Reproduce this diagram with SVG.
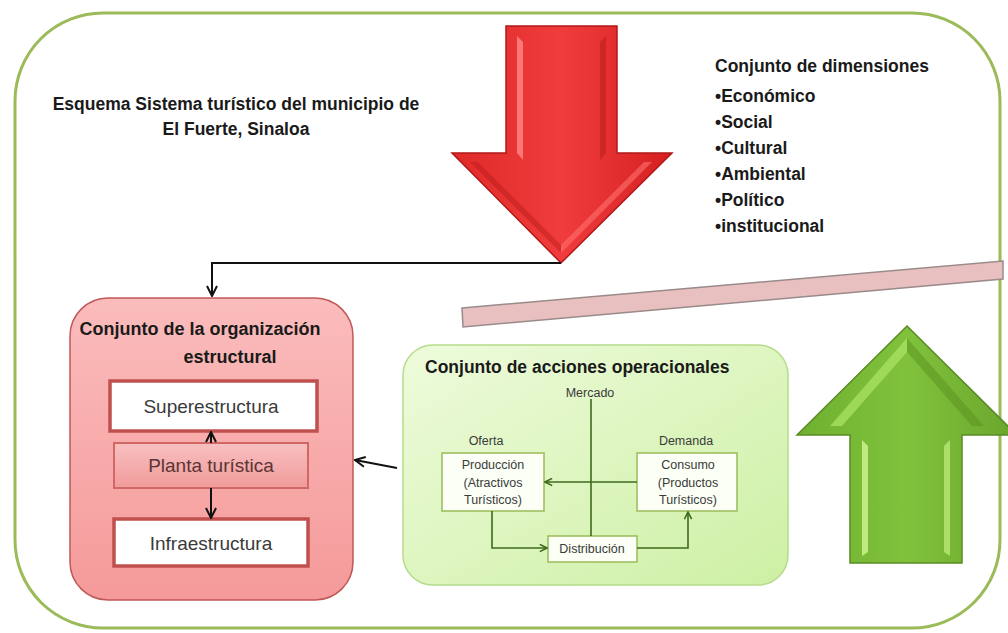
<svg xmlns="http://www.w3.org/2000/svg" width="1008" height="633" viewBox="0 0 1008 633">
<style>
text{font-family:"Liberation Sans",Arial,sans-serif;}
.b{font-weight:bold;fill:#1a1a1a;}
.t17{font-size:17.5px;}
.t18{font-size:18px;}
.box{font-size:19px;fill:#3a3a3a;}
.sm{font-size:12.5px;fill:#3a3a3a;}
.conn{fill:none;stroke:#111;stroke-width:2;}
.gconn{fill:none;stroke:#3f6a1c;stroke-width:1.6;}
.ibox{fill:#ffffff;stroke:#c0504d;stroke-width:3.5;}
.gbox{fill:#fbfff5;stroke:#9bbb59;stroke-width:1.5;}
</style>
<defs>
<linearGradient id="pinkG" x1="0" y1="0" x2="0" y2="1">
<stop offset="0" stop-color="#fbbcbc"/>
<stop offset="1" stop-color="#f59a9a"/>
</linearGradient>
<linearGradient id="plantaG" x1="0" y1="0" x2="0" y2="1">
<stop offset="0" stop-color="#f8c0c0"/>
<stop offset="1" stop-color="#f19a9a"/>
</linearGradient>
<linearGradient id="greenG" x1="0" y1="0" x2="1" y2="1">
<stop offset="0" stop-color="#eefbdc"/>
<stop offset="1" stop-color="#cdf0a4"/>
</linearGradient>
<linearGradient id="redA" x1="0" y1="0" x2="1" y2="0">
<stop offset="0" stop-color="#e02a2a"/>
<stop offset="0.5" stop-color="#f03c3c"/>
<stop offset="1" stop-color="#d42020"/>
</linearGradient>
<linearGradient id="greenA" x1="0" y1="0" x2="1" y2="0">
<stop offset="0" stop-color="#6fb030"/>
<stop offset="0.5" stop-color="#80c23c"/>
<stop offset="1" stop-color="#6aa52c"/>
</linearGradient>
<marker id="ah" viewBox="0 0 12 12" refX="11" refY="6" markerWidth="12" markerHeight="12" markerUnits="userSpaceOnUse" orient="auto">
<path d="M1,1 L11,6 L1,11" fill="none" stroke="#111" stroke-width="2"/>
</marker>
<marker id="gah" viewBox="0 0 10 10" refX="9" refY="5" markerWidth="9" markerHeight="9" markerUnits="userSpaceOnUse" orient="auto">
<path d="M1,1 L9,5 L1,9" fill="none" stroke="#3f6a1c" stroke-width="1.8"/>
</marker>
</defs>
<rect width="1008" height="633" fill="#ffffff"/>
<g id="frame">
<rect x="15" y="13" width="985" height="615" rx="88" ry="88" fill="#ffffff" stroke="#9bbb59" stroke-width="3"/>
</g>
<g id="title">
<text class="b t17" x="236" y="110" text-anchor="middle">Esquema Sistema turístico del municipio de</text>
<text class="b t17" x="236" y="135" text-anchor="middle">El Fuerte, Sinaloa</text>
</g>
<g id="red-arrow">
<polygon points="506,26 617,26 617,153 672,153 561,263 452,153 506,153" fill="url(#redA)" stroke="#b01818" stroke-width="1.5"/>
<polygon points="517,36 523,42 523,160 517,153" fill="#ff8a8a" opacity="0.8"/>
<polygon points="606,36 600,42 600,160 606,153" fill="#b81a1a" opacity="0.5"/>
<polygon points="470,162 478,162 561,245 561,253" fill="#b81a1a" opacity="0.45"/>
<polygon points="652,162 644,162 561,245 561,253" fill="#ff7070" opacity="0.6"/>
</g>
<g id="dimensions">
<text class="b t17" x="715" y="72">Conjunto de dimensiones</text>
<text class="b t17" x="715" y="102">•Económico</text>
<text class="b t17" x="715" y="128">•Social</text>
<text class="b t17" x="715" y="154">•Cultural</text>
<text class="b t17" x="715" y="180">•Ambiental</text>
<text class="b t17" x="715" y="206">•Político</text>
<text class="b t17" x="715" y="232">•institucional</text>
</g>
<g id="bar">
<polygon points="462,308 1003,261 1003,279 463,327" fill="#e8c0c0" stroke="#9a8a8a" stroke-width="1.5"/>
</g>
<g id="green-arrow">
<polygon points="907,326 1017,435 962,435 962,563 850,563 850,435 797,435" fill="url(#greenA)" stroke="#5a8a24" stroke-width="1.5"/>
<polygon points="862,440 868,446 868,552 862,556" fill="#c8f08a" opacity="0.9"/>
<polygon points="950,440 944,446 944,552 950,556" fill="#b8e878" opacity="0.8"/>
<polygon points="907,338 830,426 842,426 907,352" fill="#a8e060" opacity="0.8"/>
<polygon points="907,338 984,426 972,426 907,352" fill="#5a9020" opacity="0.5"/>
</g>
<g id="org">
<rect x="70" y="298" width="283" height="302" rx="38" ry="38" fill="url(#pinkG)" stroke="#c05858" stroke-width="1.5"/>
<text class="b t18" x="200" y="335" text-anchor="middle">Conjunto de la organización</text>
<text class="b t18" x="230" y="363" text-anchor="middle">estructural</text>
</g>
<g id="superestructura">
<rect class="ibox" x="110" y="381" width="207" height="50"/>
<text class="box" x="211" y="413" text-anchor="middle">Superestructura</text>
</g>
<g id="planta">
<rect x="114" y="443" width="194" height="45" fill="url(#plantaG)" stroke="#d06868" stroke-width="2"/>
<text class="box" x="211" y="472" text-anchor="middle" style="fill:#5a3535">Planta turística</text>
</g>
<g id="infraestructura">
<rect class="ibox" x="114" y="519" width="194" height="47"/>
<text class="box" x="211" y="550" text-anchor="middle">Infraestructura</text>
</g>
<g id="acciones">
<rect x="403" y="345" width="385" height="240" rx="30" ry="30" fill="url(#greenG)" stroke="#b5dc8a" stroke-width="1.5"/>
<text class="b t17" x="425" y="373">Conjunto de acciones operacionales</text>
<text class="sm" x="590" y="397" text-anchor="middle">Mercado</text>
<text class="sm" x="486" y="445" text-anchor="middle">Oferta</text>
<text class="sm" x="686" y="445" text-anchor="middle">Demanda</text>
</g>
<g id="produccion">
<rect class="gbox" x="442" y="453" width="102" height="58"/>
<text class="sm" x="493" y="469" text-anchor="middle">Producción</text>
<text class="sm" x="493" y="487" text-anchor="middle">(Atractivos</text>
<text class="sm" x="493" y="504" text-anchor="middle">Turísticos)</text>
</g>
<g id="consumo">
<rect class="gbox" x="637" y="453" width="100" height="58"/>
<text class="sm" x="688" y="469" text-anchor="middle">Consumo</text>
<text class="sm" x="688" y="487" text-anchor="middle">(Productos</text>
<text class="sm" x="688" y="504" text-anchor="middle">Turísticos)</text>
</g>
<g id="distribucion">
<rect class="gbox" x="548" y="536" width="89" height="26"/>
<text class="sm" x="592" y="553" text-anchor="middle">Distribución</text>
</g>
<g id="connectors">
<path class="conn" d="M561,263 L212,263 L212,296" marker-end="url(#ah)"/>
<path class="conn" d="M211,443 L211,432" marker-end="url(#ah)"/>
<path class="conn" d="M211,488 L211,518" marker-end="url(#ah)"/>
<path class="conn" d="M397,468 L355,460" marker-end="url(#ah)"/>
<path class="gconn" d="M591,399 L591,536"/>
<path class="gconn" d="M637,482 L545,482" marker-end="url(#gah)"/>
<path class="gconn" d="M492,511 L492,548 L547,548" marker-end="url(#gah)"/>
<path class="gconn" d="M637,548 L688,548 L688,512" marker-end="url(#gah)"/>
</g>
</svg>
